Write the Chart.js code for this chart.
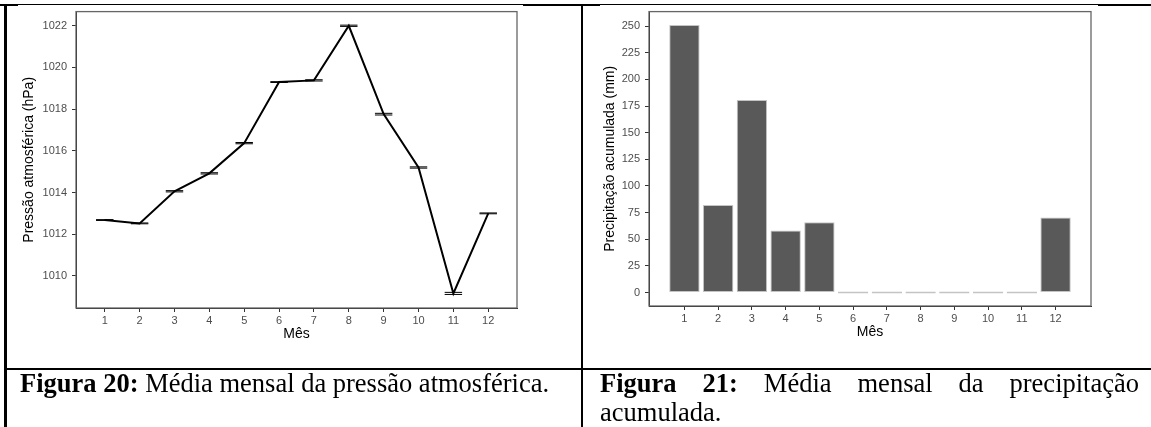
<!DOCTYPE html>
<html>
<head>
<meta charset="utf-8">
<script src="https://cdn.jsdelivr.net/npm/chart.js@4"></script>
<style>
  html, body { margin: 0; padding: 0; background: #fff; }
  #page { position: relative; width: 1151px; height: 427px; overflow: hidden; }
  canvas { position: absolute; top: 0; }
  .rule { position: absolute; background: #000; }
  .caption { position: absolute; top: 369px; font-family: 'Liberation Serif', 'Times New Roman', serif;
             font-size: 26.5px; line-height: 29px; color: #000; }
</style>
</head>
<body>
<div id="page">
  <canvas id="pressao" width="580" height="366" style="left:0"></canvas>
  <canvas id="chuva" width="567" height="366" style="left:584px"></canvas>

  <div class="rule" style="left:0;top:4px;width:1151px;height:1px"></div>
  <div class="rule" style="left:0;top:4px;width:18px;height:2px"></div>
  <div class="rule" style="left:523px;top:4px;width:77px;height:2px"></div>
  <div class="rule" style="left:1098px;top:4px;width:53px;height:2px"></div>
  <div class="rule" style="left:4px;top:4px;width:3px;height:423px"></div>
  <div class="rule" style="left:581px;top:4px;width:2px;height:423px"></div>
  <div class="rule" style="left:4px;top:368px;width:1147px;height:2px"></div>

  <div class="caption" style="left:20px;white-space:nowrap"><b>Figura 20:</b> Média mensal da pressão atmosférica.</div>
  <div class="caption" style="left:600px;width:539px;text-align:justify"><b>Figura 21:</b> Média mensal da precipitação acumulada.</div>
</div>

<script>
// meses
const months = [1, 2, 3, 4, 5, 6, 7, 8, 9, 10, 11, 12];

// pressão atmosférica média (hPa) e meia largura da barra de erro
const pressure = [1012.68, 1012.52, 1014.06, 1014.92, 1016.37, 1019.30, 1019.38, 1022.00, 1017.76, 1015.20, 1009.16, 1013.00];
const pressureErr = [0.02, 0.02, 0.03, 0.03, 0.03, 0.02, 0.03, 0.03, 0.04, 0.03, 0.05, 0.02];
const pressureTicks = [1010, 1012, 1014, 1016, 1018, 1020, 1022];

// precipitação acumulada (mm)
const rain = [251, 82.2, 180.6, 58.3, 66, 0, 0, 0, 0, 0, 0, 70.4];
const rainTicks = [0, 25, 50, 75, 100, 125, 150, 175, 200, 225, 250];

Chart.defaults.font.family = "'Liberation Sans', Arial, sans-serif";
Chart.defaults.animation = false;

const tickFont = { size: 11 };
const titleFont = { size: 14 };

// moldura do painel (estilo ggplot)
const panelBox = {
  id: 'panelBox',
  afterDraw(chart) {
    const { ctx, chartArea: a } = chart;
    ctx.save();
    ctx.strokeStyle = '#666';
    ctx.lineWidth = 1.3;
    ctx.strokeRect(a.left, a.top, a.right - a.left, a.bottom - a.top);
    ctx.restore();
  }
};

// barras de erro horizontais
const errorBars = {
  id: 'errorBars',
  beforeDatasetsDraw(chart) {
    const { ctx, scales: { x, y } } = chart;
    ctx.save();
    ctx.strokeStyle = '#000';
    ctx.lineWidth = 1;
    months.forEach((m, i) => {
      const x1 = x.getPixelForValue(m - 0.25);
      const x2 = x.getPixelForValue(m + 0.25);
      const yLo = y.getPixelForValue(pressure[i] - pressureErr[i]);
      const yHi = y.getPixelForValue(pressure[i] + pressureErr[i]);
      ctx.beginPath();
      ctx.moveTo(x1, yLo); ctx.lineTo(x2, yLo);
      ctx.moveTo(x1, yHi); ctx.lineTo(x2, yHi);
      ctx.moveTo((x1 + x2) / 2, yLo); ctx.lineTo((x1 + x2) / 2, yHi);
      ctx.stroke();
    });
    ctx.restore();
  }
};

function axisStyle(ticksList) {
  return {
    afterBuildTicks: axis => { axis.ticks = ticksList.map(v => ({ value: v })); },
    grid: { display: true, offset: false, drawOnChartArea: false, drawTicks: true, tickLength: 4, color: '#333' },
    border: { display: true, color: '#111', width: 1 },
  };
}

const plainTicks = { font: tickFont, color: '#4d4d4d', callback: v => String(v) };

new Chart(document.getElementById('pressao'), {
  type: 'line',
  data: {
    datasets: [{
      data: months.map((m, i) => ({ x: m, y: pressure[i] })),
      borderColor: '#000',
      borderWidth: 2,
      pointRadius: 0,
      tension: 0
    }]
  },
  options: {
    responsive: false,
    devicePixelRatio: 1,
    layout: { padding: { top: 11, right: 63, left: 0, bottom: 0 } },
    plugins: { legend: { display: false }, tooltip: { enabled: false } },
    scales: {
      x: {
        type: 'linear', min: 0.175, max: 12.825,
        ...axisStyle(months),
        afterFit: s => { s.height = 58; },
        ticks: { ...plainTicks, padding: 2, autoSkip: false, maxRotation: 0 },
        title: { display: true, text: 'Mês', font: titleFont, color: '#000', padding: { bottom: 23 } }
      },
      y: {
        type: 'linear', min: 1008.46, max: 1022.68,
        ...axisStyle(pressureTicks),
        afterFit: s => { s.width = 76; },
        ticks: { ...plainTicks, padding: 5 },
        title: { display: true, text: 'Pressão atmosférica (hPa)', font: titleFont, color: '#000', padding: { top: 21 } }
      }
    }
  },
  plugins: [errorBars, panelBox]
});

new Chart(document.getElementById('chuva'), {
  type: 'bar',
  data: {
    datasets: [{
      data: months.map((m, i) => ({ x: m, y: rain[i] })),
      backgroundColor: '#595959',
      borderColor: '#c4c4c4',
      borderWidth: 1,
      borderSkipped: false,
      minBarLength: 2,
      barPercentage: 0.9,
      categoryPercentage: 1
    }]
  },
  options: {
    responsive: false,
    devicePixelRatio: 1,
    layout: { padding: { top: 11, right: 60, left: 0, bottom: 0 } },
    plugins: { legend: { display: false }, tooltip: { enabled: false } },
    scales: {
      x: {
        type: 'linear', min: -0.05, max: 13.05, offset: false,
        ...axisStyle(months),
        afterFit: s => { s.height = 60; },
        ticks: { ...plainTicks, padding: 2, autoSkip: false, maxRotation: 0 },
        title: { display: true, text: 'Mês', font: titleFont, color: '#000', padding: { bottom: 25 } }
      },
      y: {
        type: 'linear', min: -12.55, max: 263.55,
        ...axisStyle(rainTicks),
        afterFit: s => { s.width = 65; },
        ticks: { ...plainTicks, padding: 5 },
        title: { display: true, text: 'Precipitação acumulada (mm)', font: titleFont, color: '#000', padding: { top: 18 } }
      }
    }
  },
  plugins: [panelBox]
});
</script>
</body>
</html>
